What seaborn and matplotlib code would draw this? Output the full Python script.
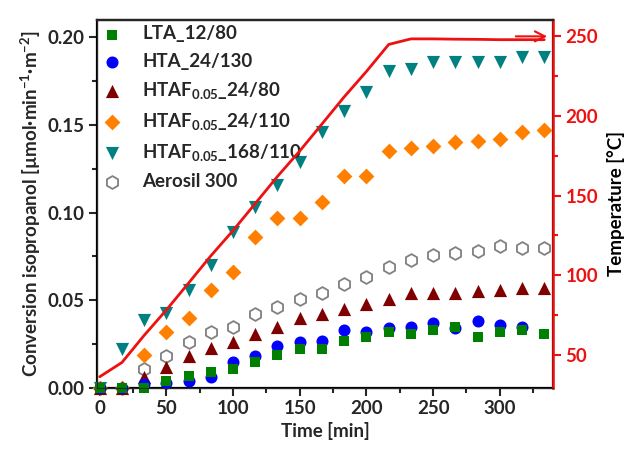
"""
Conversion of isopropanol and reactor temperature over time.
"""

import matplotlib
matplotlib.use('Agg')
import matplotlib.pyplot as plt
from matplotlib.ticker import MultipleLocator
import numpy as np
import pandas
import seaborn as sns

# Data
time_min = [0, 16.7, 33.3, 50, 66.7, 83.3, 100, 116.7, 133.3, 150, 166.7,
            183.3, 200, 216.7, 233.3, 250, 266.7, 283.3, 300, 316.7, 333.3]

lta_12_80 = [0.000, 0.000, 0.000, 0.004, 0.007, 0.009, 0.011, 0.015, 0.019,
             0.022, 0.022, 0.027, 0.029, 0.032, 0.031, 0.033, 0.035, 0.029,
             0.032, 0.033, 0.031]
hta_24_130 = [0.000, 0.000, 0.002, 0.003, 0.004, 0.006, 0.015, 0.018, 0.024,
              0.026, 0.027, 0.033, 0.032, 0.034, 0.035, 0.037, 0.034, 0.038,
              0.036, 0.035, np.nan]
htaf_24_80 = [0.000, 0.000, 0.006, 0.012, 0.018, 0.023, 0.026, 0.031, 0.035,
              0.040, 0.042, 0.045, 0.048, 0.051, 0.054, 0.054, 0.054, 0.055,
              0.056, 0.057, 0.057]
htaf_24_110 = [0.000, 0.000, 0.019, 0.032, 0.040, 0.056, 0.066, 0.086, 0.097,
               0.097, 0.106, 0.121, 0.121, 0.135, 0.137, 0.138, 0.140, 0.141,
               0.142, 0.146, 0.147]
htaf_168_110 = [0.000, 0.022, 0.039, 0.043, 0.056, 0.070, 0.089, 0.103, 0.116,
                0.129, 0.146, 0.158, 0.169, 0.181, 0.182, 0.186, 0.186, 0.186,
                0.186, 0.189, 0.189]
aerosil_300 = [np.nan, np.nan, 0.011, 0.018, 0.026, 0.032, 0.035, 0.042, 0.046,
               0.051, 0.054, 0.059, 0.063, 0.069, 0.073, 0.076, 0.077, 0.078,
               0.081, 0.080, 0.080]

temperature = [36, 45, 62, 78, 95, 112, 128, 145, 162, 178, 195, 212, 228,
               245, 248.5, 248.5, 248.3, 248.2, 248, 248, 248]

series = [
    ('LTA_12/80', lta_12_80, 's', '#008000', '#008000', 60),
    ('HTA_24/130', hta_24_130, 'o', '#0000ff', '#0000ff', 75),
    ('HTAF$_{0.05}$_24/80', htaf_24_80, '^', '#800000', '#800000', 90),
    ('HTAF$_{0.05}$_24/110', htaf_24_110, 'D', '#ff8000', '#ff8000', 65),
    ('HTAF$_{0.05}$_168/110', htaf_168_110, 'v', '#008080', '#008080', 90),
    ('Aerosil 300', aerosil_300, 'h', 'white', '#808080', 85),
]

FS = 13.5


def main():
    sns.set_style('ticks')
    plt.rcParams['font.family'] = ['Lato', 'DejaVu Sans']
    plt.rcParams['font.weight'] = 'bold'
    plt.rcParams['mathtext.fontset'] = 'custom'
    plt.rcParams['mathtext.rm'] = 'Lato:bold'
    plt.rcParams['mathtext.it'] = 'Lato:bold'
    plt.rcParams['mathtext.bf'] = 'Lato:bold'
    plt.rcParams['mathtext.default'] = 'bf'

    fig = plt.figure(figsize=(6.3, 4.5), dpi=100)
    ax = fig.add_axes([0.154, 0.138, 0.724, 0.818])

    # draw in reverse so that the first series ends up on top
    handles = {}
    for z, (name, values, marker, face, edge, size) in enumerate(reversed(series)):
        df = pandas.DataFrame({'time': time_min, 'value': values}).dropna()
        sns.scatterplot(data=df, x='time', y='value', ax=ax, marker=marker,
                        color=face, edgecolor=edge, linewidth=1.3 if face == 'white' else 0,
                        s=size, label=name, zorder=3 + z, clip_on=False)
    for h, t in zip(*ax.get_legend_handles_labels()):
        handles[t] = h

    ax.set_xlim(-2, 340)
    ax.set_ylim(0, 0.21)
    ax.xaxis.set_major_locator(MultipleLocator(50))
    ax.xaxis.set_minor_locator(MultipleLocator(25))
    ax.yaxis.set_major_locator(MultipleLocator(0.05))
    ax.yaxis.set_minor_locator(MultipleLocator(0.025))
    ax.yaxis.set_major_formatter(plt.FuncFormatter(lambda v, p: f'{v:.2f}'))
    ax.tick_params(which='major', length=6, width=1.5, labelsize=FS, pad=3)
    ax.tick_params(which='minor', length=3.5, width=1.5)
    for sp in ax.spines.values():
        sp.set_linewidth(1.6)
        sp.set_color('black')
    ax.set_xlabel('Time [min]', fontsize=FS, fontweight='bold', labelpad=3)
    ax.set_ylabel('Conversion isopropanol [µmol·min$^{-1}$·m$^{-2}$]',
                  fontsize=FS, fontweight='bold', labelpad=3)

    leg = ax.legend([handles[s[0]] for s in series], [s[0] for s in series],
                    loc='upper left', frameon=False, fontsize=FS,
                    labelspacing=0.54, handlelength=1.0, handletextpad=1.1,
                    borderaxespad=0.1, borderpad=0.2,
                    bbox_to_anchor=(0.0, 1.0))
    leg.set_zorder(20)

    # temperature on the right axis
    ax2 = ax.twinx()
    sns.lineplot(x=time_min, y=temperature, ax=ax2, color='#ee1111',
                 linewidth=2.0, zorder=10)
    ax2.set_ylim(29, 260.5)
    ax2.yaxis.set_major_locator(MultipleLocator(50))
    ax2.yaxis.set_minor_locator(MultipleLocator(25))
    ax2.tick_params(axis='y', which='major', length=6, width=1.5,
                    labelsize=FS, colors='#ee1111', pad=3)
    ax2.tick_params(axis='y', which='minor', length=3.5, width=1.5,
                    colors='#ee1111')
    for lbl in ax2.get_yticklabels():
        lbl.set_color('#ee1111')
    ax2.spines['right'].set_color('#ee1111')
    ax2.spines['right'].set_linewidth(1.8)
    ax2.spines['top'].set_linewidth(1.6)
    ax2.set_ylabel('Temperature [°C]', fontsize=FS, fontweight='bold',
                   color='black', labelpad=6)

    # arrow pointing at the temperature axis
    ax2.annotate('', xy=(0.993, 0.955), xytext=(0.912, 0.955),
                 xycoords='axes fraction',
                 arrowprops=dict(arrowstyle='->', color='#ee1111', lw=1.5,
                                 mutation_scale=18))

    fig.savefig('out.png', dpi=100)


if __name__ == '__main__':
    main()
